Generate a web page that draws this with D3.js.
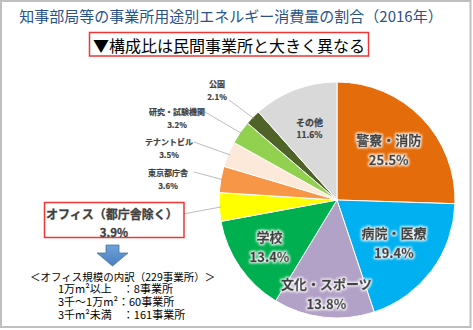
<!DOCTYPE html>
<html><head><meta charset="utf-8">
<script src="https://cdn.jsdelivr.net/npm/d3@7"></script>
<style>
html,body{margin:0;padding:0;background:#fff;}
svg{display:block;font-family:"Noto Sans CJK JP","Noto Sans",sans-serif;}
</style></head>
<body>
<svg id="chart" width="473" height="330"></svg>
<script>
// ---- data ----
const categories = ["警察・消防","病院・医療","文化・スポーツ","学校","オフィス（都庁舎除く）","東京都庁舎","テナントビル","研究・試験機関","公園","その他"];
const shares = [25.5, 19.4, 13.8, 13.4, 3.9, 3.6, 3.5, 3.2, 2.1, 11.6];
const titleText = "知事部局等の事業所用途別エネルギー消費量の割合（2016年）";
const subtitleText = "▼構成比は民間事業所と大きく異なる";
const breakdownHeader = "＜オフィス規模の内訳（229事業所）＞";
const breakdownLines = ["1万m²以上　：8事業所", "3千～1万m²：60事業所", "3千m²未満　：161事業所"];

// ---- styles / layout ----
const colors = ["#E46C0A","#00B0F0","#B3A2C7","#00B050","#FFFF00","#F79646","#FDE9D9","#92D050","#4F6228","#D9D9D9"];
const cx = 337, cy = 200, R = 118;
// inside label radial distance (null = outside label)
const insideLabelR = [72, 71, 94, 82, null, null, null, null, null, 77];
// outside label anchors: [x center, y of name line, leader start x, leader start y]
const outsideLabels = {
  5: [168, 172, 194, 172],
  6: [169, 141, 194, 142],
  7: [177, 111, 205, 112],
  8: [217, 83, 229, 100]
};

const svg = d3.select("#chart");

// glow filter
const defs = svg.append("defs");
const f = defs.append("filter").attr("id","glow").attr("x","-20%").attr("y","-40%").attr("width","140%").attr("height","180%");
f.append("feMorphology").attr("in","SourceAlpha").attr("operator","dilate").attr("radius",1.2).attr("result","d");
f.append("feGaussianBlur").attr("in","d").attr("stdDeviation",1.3).attr("result","b");
f.append("feFlood").attr("flood-color","#ffffff").attr("flood-opacity",0.95);
f.append("feComposite").attr("in2","b").attr("operator","in").attr("result","g");
const fm = f.append("feMerge");
fm.append("feMergeNode").attr("in","g");
fm.append("feMergeNode").attr("in","SourceGraphic");

const grad = defs.append("linearGradient").attr("id","arrowGrad").attr("x1",0).attr("y1",0).attr("x2",0).attr("y2",1);
grad.append("stop").attr("offset","0%").attr("stop-color","#6FA3DC");
grad.append("stop").attr("offset","100%").attr("stop-color","#4A7DBE");

// frame
svg.append("rect").attr("x",1).attr("y",1).attr("width",469.5).attr("height",326)
  .attr("fill","#fff").attr("stroke","#BFBFBF").attr("stroke-width",2);

// title
svg.append("text").attr("x",231).attr("y",15).attr("text-anchor","middle").attr("dominant-baseline","central")
  .attr("font-size",15).attr("fill","#2B5288").text(titleText);

// subtitle box
svg.append("rect").attr("x",89.5).attr("y",32.5).attr("width",279).attr("height",23.5)
  .attr("fill","#fff").attr("stroke","#F03535").attr("stroke-width",1.5);
svg.append("text").attr("x",229).attr("y",44.5).attr("text-anchor","middle").attr("dominant-baseline","central")
  .attr("font-size",16).attr("fill","#000").text(subtitleText);

// pie
const pie = d3.pie().sort(null).value(d => d);
const arcs = pie(shares);
const arc = d3.arc().innerRadius(0).outerRadius(R);
const g = svg.append("g").attr("transform",`translate(${cx},${cy})`);
g.selectAll("path").data(arcs).enter().append("path")
  .attr("d",arc).attr("fill",(d,i)=>colors[i]).attr("stroke","#fff").attr("stroke-width",1);

// inside labels
arcs.forEach((d,i) => {
  const lr = insideLabelR[i];
  if (lr == null) return;
  const a = (d.startAngle + d.endAngle)/2;
  const x = cx + lr*Math.sin(a), y = cy - lr*Math.cos(a);
  const small = i === 9;
  const fs1 = small ? 9 : 13, fs2 = small ? 8.5 : 13, gap = small ? 6 : 10;
  const t = svg.append("g").attr("filter", small ? null : "url(#glow)")
    .attr("stroke","#404040").attr("stroke-width", small ? 0.2 : 0.4);
  t.append("text").attr("x",x).attr("y",y-gap).attr("text-anchor","middle").attr("dominant-baseline","central")
    .attr("font-size",fs1).attr("font-weight","bold").attr("fill","#404040").text(categories[i]);
  t.append("text").attr("x",x).attr("y",y+gap).attr("text-anchor","middle").attr("dominant-baseline","central")
    .attr("font-size",fs2).attr("font-weight","bold").attr("fill","#404040").text(shares[i].toFixed(1)+"%");
});

// outside labels with leaders
Object.keys(outsideLabels).forEach(k => {
  const i = +k, [lx, ly, sx, sy] = outsideLabels[k];
  const d = arcs[i];
  const a = (d.startAngle + d.endAngle)/2;
  const ex = cx + (R-2)*Math.sin(a), ey = cy - (R-2)*Math.cos(a);
  svg.append("line").attr("x1",sx).attr("y1",sy).attr("x2",ex).attr("y2",ey)
    .attr("stroke","#A6A6A6").attr("stroke-width",0.75);
  svg.append("text").attr("x",lx).attr("y",ly).attr("text-anchor","middle").attr("dominant-baseline","central")
    .attr("font-size",8).attr("font-weight","bold").attr("fill","#404040").attr("stroke","#404040").attr("stroke-width",0.2).text(categories[i]);
  svg.append("text").attr("x",lx).attr("y",ly+13.5).attr("text-anchor","middle").attr("dominant-baseline","central")
    .attr("font-size",8).attr("font-weight","bold").attr("fill","#404040").attr("stroke","#404040").attr("stroke-width",0.2).text(shares[i].toFixed(1)+"%");
});

// office label (boxed)
{
  const i = 4, d = arcs[i];
  const a = (d.startAngle + d.endAngle)/2;
  const ex = cx + (R-2)*Math.sin(a), ey = cy - (R-2)*Math.cos(a);
  svg.append("line").attr("x1",175).attr("y1",215.5).attr("x2",ex).attr("y2",ey)
    .attr("stroke","#A6A6A6").attr("stroke-width",0.75);
  svg.append("rect").attr("x",44.5).attr("y",202.5).attr("width",139.5).attr("height",35)
    .attr("fill","#fff").attr("stroke","#F03535").attr("stroke-width",1.5);
  svg.append("text").attr("x",112).attr("y",213.5).attr("text-anchor","middle").attr("dominant-baseline","central")
    .attr("font-size",12).attr("font-weight","bold").attr("fill","#404040").attr("stroke","#404040").attr("stroke-width",0.3).text(categories[i]);
  svg.append("text").attr("x",114).attr("y",231.5).attr("text-anchor","middle").attr("dominant-baseline","central")
    .attr("font-size",11.5).attr("font-weight","bold").attr("fill","#404040").attr("stroke","#404040").attr("stroke-width",0.3).text(shares[i].toFixed(1)+"%");
}

// arrow
svg.append("path")
  .attr("d","M106,245 L119,245 L119,253 L128,253 L112.5,266 L97,253 L106,253 Z")
  .attr("fill","url(#arrowGrad)").attr("stroke","#41719C").attr("stroke-width",0.75);

// breakdown text (one multi-line text block)
const block = svg.append("text").attr("fill","#000").attr("dominant-baseline","central");
block.append("tspan").attr("x",30).attr("y",275.5).attr("font-size",10.5).text(breakdownHeader);
breakdownLines.forEach((s,j) => {
  block.append("tspan").attr("x",58).attr("y",288 + j*13).attr("font-size",11).text(s);
});
</script>
</body></html>
